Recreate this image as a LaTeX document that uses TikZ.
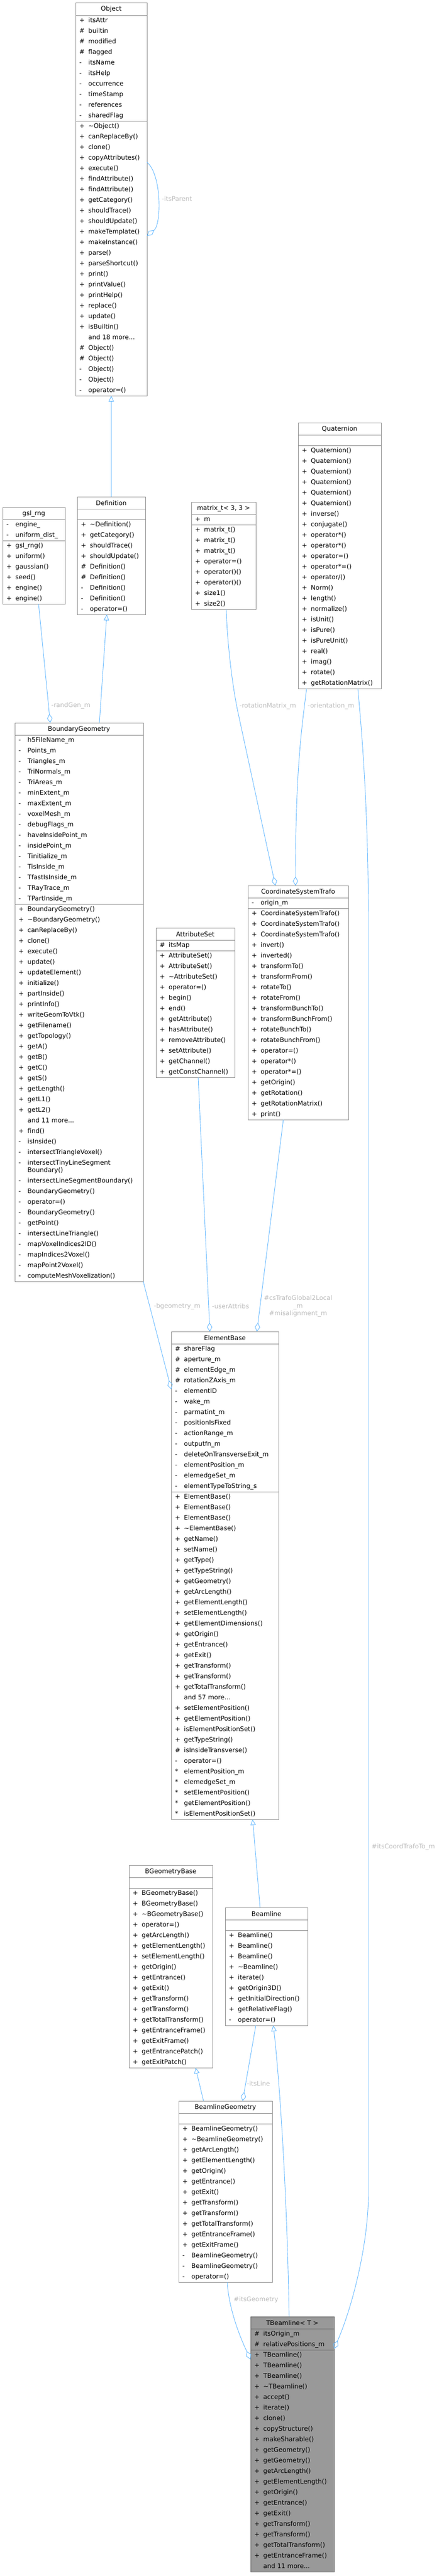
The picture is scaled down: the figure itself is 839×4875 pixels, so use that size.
\documentclass[tikz,border=0pt]{standalone}
\usepackage{fontspec}
\setmainfont{DejaVu Sans}
\usetikzlibrary{arrows.meta}
\definecolor{edgeblue}{HTML}{63B8FF}
\definecolor{boxgray}{HTML}{8C8C8C}
\definecolor{lblgray}{HTML}{BDBDBD}
\definecolor{tbfill}{HTML}{999999}
\tikzset{
  cls/.style={draw=boxgray, line width=0.9pt, fill=white, inner sep=0pt, outer sep=0pt},
  clsline/.style={draw=boxgray, line width=0.9pt},
  ttl/.style={font=\fontsize{12}{14}\selectfont, inner sep=0pt},
  sym/.style={anchor=west, font=\fontsize{12}{14}\selectfont, inner sep=0pt, text height=8.5pt, text depth=2.5pt},
  nm/.style={anchor=west, font=\fontsize{12}{14}\selectfont, inner sep=0pt, text height=8.5pt, text depth=2.5pt},
  lbl/.style={font=\fontsize{12}{14}\selectfont, text=lblgray, inner sep=0pt},
  edge/.style={draw=edgeblue, line width=0.9pt},
  agg/.style={edge, {Diamond[open, length=17pt, width=10pt, line width=0.9pt]}-},
  inh/.style={edge, -{Triangle[open, length=11pt, width=10pt, line width=0.9pt]}},
}
\newcommand\cbox[6]{%
  \node[cls, minimum width=#4pt, minimum height=#5pt, anchor=north west] (#1) at (#2,#3) {};
  \node[ttl] (#1-t) at ({#2+#4/2},{#3+12}) {#6};}
\newcommand\csep[3]{\draw[clsline] (#1,#3) -- ({#1+#2},#3);}
\newcommand\crows[3]{\foreach \s/\t [count=\i] in {#3} {%
  \node[sym] at ({#1+7},{#2+\i*20-10}) {\s};
  \node[nm] at ({#1+24},{#2+\i*20-10}) {\t};}}
\begin{document}
\begin{tikzpicture}[x=1pt,y=-1pt]
\useasboundingbox (0,0) rectangle (839,4875);
\fill[white] (0,0) rectangle (839,4875);

% Object
\cbox{obj}{143}{5}{135}{744}{Object}
\csep{143}{135}{29}\csep{143}{135}{229}
\crows{143}{29}{+/itsAttr,\#/builtin,\#/modified,\#/flagged,-/itsName,-/itsHelp,-/occurrence,-/timeStamp,-/references,-/sharedFlag}
\crows{143}{229}{+/\textasciitilde Object(),+/canReplaceBy(),+/clone(),+/copyAttributes(),+/execute(),+/findAttribute(),+/findAttribute(),+/getCategory(),+/shouldTrace(),+/shouldUpdate(),+/makeTemplate(),+/makeInstance(),+/parse(),+/parseShortcut(),+/print(),+/printValue(),+/printHelp(),+/replace(),+/update(),+/isBuiltin(),{}/{and 18 more...},\#/Object(),\#/Object(),-/Object(),-/Object(),-/operator=()}

% Definition
\cbox{def}{146}{940}{129}{223}{Definition}
\csep{146}{129}{963}\csep{146}{129}{983}
\crows{146}{983}{+/\textasciitilde Definition(),+/getCategory(),+/shouldTrace(),+/shouldUpdate(),\#/Definition(),\#/Definition(),-/Definition(),-/Definition(),-/operator=()}

% gsl_rng
\cbox{gsl}{5}{960}{118}{183}{gsl\_rng}
\csep{5}{118}{983}\csep{5}{118}{1023}
\crows{5}{983}{-/engine\_,-/uniform\_dist\_}
\crows{5}{1023}{+/gsl\_rng(),+/uniform(),+/gaussian(),+/seed(),+/engine(),+/engine()}

% matrix_t
\cbox{mat}{362}{950}{122}{203}{matrix\_t< 3, 3 >}
\csep{362}{122}{973}\csep{362}{122}{993}
\crows{362}{973}{+/m}
\crows{362}{993}{+/matrix\_t(),+/matrix\_t(),+/matrix\_t(),+/operator=(),+/operator()(),+/operator()(),+/size1(),+/size2()}

% Quaternion
\cbox{q}{564}{800}{157}{503}{Quaternion}
\csep{564}{157}{823}\csep{564}{157}{843}
\crows{564}{843}{+/Quaternion(),+/Quaternion(),+/Quaternion(),+/Quaternion(),+/Quaternion(),+/Quaternion(),+/inverse(),+/conjugate(),+/operator*(),+/operator*(),+/operator=(),+/operator*=(),+/{operator/()},+/Norm(),+/length(),+/normalize(),+/isUnit(),+/isPure(),+/isPureUnit(),+/real(),+/imag(),+/rotate(),+/getRotationMatrix()}

% BoundaryGeometry
\cbox{bg}{28}{1368}{243}{1057}{BoundaryGeometry}
\csep{28}{243}{1391}\csep{28}{243}{1711}
\crows{28}{1391}{-/h5FileName\_m,-/Points\_m,-/Triangles\_m,-/TriNormals\_m,-/TriAreas\_m,-/minExtent\_m,-/maxExtent\_m,-/voxelMesh\_m,-/debugFlags\_m,-/haveInsidePoint\_m,-/insidePoint\_m,-/Tinitialize\_m,-/TisInside\_m,-/TfastIsInside\_m,-/TRayTrace\_m,-/TPartInside\_m}
\crows{28}{1711}{+/BoundaryGeometry(),+/\textasciitilde BoundaryGeometry(),+/canReplaceBy(),+/clone(),+/execute(),+/update(),+/updateElement(),+/initialize(),+/partInside(),+/printInfo(),+/writeGeomToVtk(),+/getFilename(),+/getTopology(),+/getA(),+/getB(),+/getC(),+/getS(),+/getLength(),+/getL1(),+/getL2(),{}/{and 11 more...},+/find(),-/isInside(),-/intersectTriangleVoxel()}
\node[sym] at (35,2201) {-};
\node[nm] at (52,2201) {intersectTinyLineSegment};
\node[nm] at (52,2215) {Boundary()};
\crows{28}{2225}{-/intersectLineSegmentBoundary(),-/BoundaryGeometry(),-/operator=(),-/BoundaryGeometry(),-/getPoint(),-/intersectLineTriangle(),-/mapVoxelIndices2ID(),-/mapIndices2Voxel(),-/mapPoint2Voxel(),-/computeMeshVoxelization()}

% AttributeSet
\cbox{as}{295}{1756}{149}{283}{AttributeSet}
\csep{295}{149}{1779}\csep{295}{149}{1799}
\crows{295}{1779}{\#/itsMap}
\crows{295}{1799}{+/AttributeSet(),+/AttributeSet(),+/\textasciitilde AttributeSet(),+/operator=(),+/begin(),+/end(),+/getAttribute(),+/hasAttribute(),+/removeAttribute(),+/setAttribute(),+/getChannel(),+/getConstChannel()}

% CoordinateSystemTrafo
\cbox{cst}{469}{1676}{190}{443}{CoordinateSystemTrafo}
\csep{469}{190}{1699}\csep{469}{190}{1719}
\crows{469}{1699}{-/origin\_m}
\crows{469}{1719}{+/CoordinateSystemTrafo(),+/CoordinateSystemTrafo(),+/CoordinateSystemTrafo(),+/invert(),+/inverted(),+/transformTo(),+/transformFrom(),+/rotateTo(),+/rotateFrom(),+/transformBunchTo(),+/transformBunchFrom(),+/rotateBunchTo(),+/rotateBunchFrom(),+/operator=(),+/operator*(),+/operator*=(),+/getOrigin(),+/getRotation(),+/getRotationMatrix(),+/print()}

% ElementBase
\cbox{eb}{324}{2520}{203}{923}{ElementBase}
\csep{324}{203}{2543}\csep{324}{203}{2823}
\crows{324}{2543}{\#/shareFlag,\#/aperture\_m,\#/elementEdge\_m,\#/rotationZAxis\_m,-/elementID,-/wake\_m,-/parmatint\_m,-/positionIsFixed,-/actionRange\_m,-/outputfn\_m,-/deleteOnTransverseExit\_m,-/elementPosition\_m,-/elemedgeSet\_m,-/elementTypeToString\_s}
\crows{324}{2823}{+/ElementBase(),+/ElementBase(),+/ElementBase(),+/\textasciitilde ElementBase(),+/getName(),+/setName(),+/getType(),+/getTypeString(),+/getGeometry(),+/getArcLength(),+/getElementLength(),+/setElementLength(),+/getElementDimensions(),+/getOrigin(),+/getEntrance(),+/getExit(),+/getTransform(),+/getTransform(),+/getTotalTransform(),{}/{and 57 more...},+/setElementPosition(),+/getElementPosition(),+/isElementPositionSet(),+/getTypeString(),\#/isInsideTransverse(),-/operator=(),*/elementPosition\_m,*/elemedgeSet\_m,*/setElementPosition(),*/getElementPosition(),*/isElementPositionSet()}

% BGeometryBase
\cbox{bgb}{244}{3530}{158}{383}{BGeometryBase}
\csep{244}{158}{3553}\csep{244}{158}{3573}
\crows{244}{3573}{+/BGeometryBase(),+/BGeometryBase(),+/\textasciitilde BGeometryBase(),+/operator=(),+/getArcLength(),+/getElementLength(),+/setElementLength(),+/getOrigin(),+/getEntrance(),+/getExit(),+/getTransform(),+/getTransform(),+/getTotalTransform(),+/getEntranceFrame(),+/getExitFrame(),+/getEntrancePatch(),+/getExitPatch()}

% Beamline
\cbox{bl}{426}{3610}{156}{223}{Beamline}
\csep{426}{156}{3633}\csep{426}{156}{3653}
\crows{426}{3653}{+/Beamline(),+/Beamline(),+/Beamline(),+/\textasciitilde Beamline(),+/iterate(),+/getOrigin3D(),+/getInitialDirection(),+/getRelativeFlag(),-/operator=()}

% BeamlineGeometry
\cbox{blg}{338}{3976}{177}{343}{BeamlineGeometry}
\csep{338}{177}{3999}\csep{338}{177}{4019}
\crows{338}{4019}{+/BeamlineGeometry(),+/\textasciitilde BeamlineGeometry(),+/getArcLength(),+/getElementLength(),+/getOrigin(),+/getEntrance(),+/getExit(),+/getTransform(),+/getTransform(),+/getTotalTransform(),+/getEntranceFrame(),+/getExitFrame(),-/BeamlineGeometry(),-/BeamlineGeometry(),-/operator=()}

% TBeamline
\node[cls, fill=tbfill, draw=black!60, minimum width=158pt, minimum height=483pt, anchor=north west] (tb) at (474,4384) {};
\node[ttl] (tb-t) at (553,4396) {TBeamline< T >};
\draw[draw=black!60, line width=0.9pt] (474,4407) -- (632,4407) (474,4447) -- (632,4447);
\crows{474}{4407}{\#/itsOrigin\_m,\#/relativePositions\_m}
\crows{474}{4447}{+/TBeamline(),+/TBeamline(),+/TBeamline(),+/\textasciitilde TBeamline(),+/accept(),+/iterate(),+/clone(),+/copyStructure(),+/makeSharable(),+/getGeometry(),+/getGeometry(),+/getArcLength(),+/getElementLength(),+/getOrigin(),+/getEntrance(),+/getExit(),+/getTransform(),+/getTransform(),+/getTotalTransform(),+/getEntranceFrame(),{}/{and 11 more...}}

% Edges
\draw[agg] ([yshift=-441pt]obj.north east) .. controls (306,425) and (306,330) .. ([yshift=-302pt]obj.north east);
\draw[inh] (def.north) -- (obj.south);
\draw[agg] ([xshift=67pt]bg.north west) -- ([xshift=68pt]gsl.south west);
\draw[inh] ([xshift=160pt]bg.north west) -- ([xshift=56pt]def.south west);
\draw[agg] ([xshift=52pt]cst.north west) -- (450,1347) .. controls (440,1300) and (430,1220) .. ([xshift=66pt]mat.south west);
\draw[agg] ([xshift=90pt]cst.north west) .. controls (559,1450) and (572,1370) .. ([xshift=16pt]q.south west);
\draw[agg] ([yshift=-61pt]tb.north east) .. controls (665,4370) and (697,4250) .. (697,4150) -- (697,1750) .. controls (697,1500) and (680,1340) .. ([xshift=113pt]q.south west);
\draw[agg] ([xshift=73pt]eb.north west) -- ([xshift=80pt]as.south west);
\draw[agg] ([xshift=162pt]eb.north west) -- ([xshift=67pt]cst.south west);
\draw[agg] ([yshift=-109pt]eb.north west) -- (bg.south east);
\draw[inh] ([xshift=66pt]bl.north west) -- ([xshift=154pt]eb.south west);
\draw[inh] ([xshift=47pt]blg.north west) -- ([xshift=126pt]bgb.south west);
\draw[agg] ([xshift=121pt]blg.north west) -- ([xshift=58pt]bl.south west);
\draw[inh] ([xshift=73pt]tb.north west) .. controls (542,4100) and (525,3900) .. ([xshift=91pt]bl.south west);
\draw[agg] ([yshift=-81pt]tb.north west) .. controls (448,4410) and (432,4360) .. ([xshift=92pt]blg.south west);

% Labels
\node[lbl, anchor=west] (l1) at (306,376) {-itsParent};
\node[lbl, anchor=west] (l2) at (97,1335) {-randGen\_m};
\node[lbl, anchor=west] (l3) at (453,1336) {-rotationMatrix\_m};
\node[lbl, anchor=west] (l4) at (582,1336) {-orientation\_m};
\node[lbl, anchor=west] (l5) at (291,2472) {-bgeometry\_m};
\node[lbl, anchor=west] (l6) at (401,2472) {-userAttribs};
\node[lbl, align=center, font=\fontsize{12}{14.5}\selectfont] (l7) at (564,2472) {\#csTrafoGlobal2Local\\\_m\\\#misalignment\_m};
\node[lbl, anchor=west] (l8) at (703,3495) {\#itsCoordTrafoTo\_m};
\node[lbl, anchor=west] (l9) at (467,3943) {-itsLine};
\node[lbl, anchor=west] (l10) at (442,4352) {\#itsGeometry};
\end{tikzpicture}
\end{document}
